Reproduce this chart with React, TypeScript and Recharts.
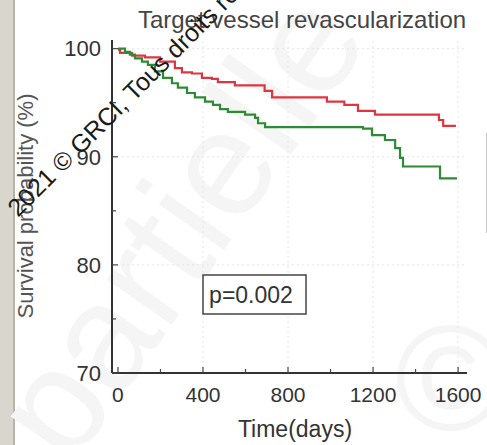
import React from 'react';
import { LineChart, Line, XAxis, YAxis, ReferenceLine } from 'recharts';

// Kaplan-Meier steps
const redTimes = [0, 10, 66, 127, 198, 268, 301, 348, 395, 442, 470, 550, 690, 725, 983, 1065, 1129, 1209, 1510, 1530, 1590];
const redSurvival = [99.9, 99.6, 99.35, 99.2, 98.8, 98.2, 97.8, 97.7, 97.3, 97.2, 96.9, 96.6, 96.1, 95.5, 95.1, 94.8, 94.25, 93.9, 93.4, 92.85, 92.85];

const greenTimes = [0, 33, 56, 80, 113, 141, 174, 212, 254, 282, 325, 362, 410, 447, 480, 517, 598, 645, 659, 692, 1153, 1195, 1256, 1304, 1327, 1341, 1515, 1595];
const greenSurvival = [100, 99.7, 99.45, 99.1, 98.8, 98.5, 97.9, 97.3, 96.8, 96.4, 95.9, 95.5, 95.1, 94.8, 94.4, 94.15, 93.9, 93.6, 93.1, 92.75, 92.6, 92.0, 91.55, 90.8, 89.9, 89.1, 88.0, 88.0];

const xTicks = [0, 200, 400, 600, 800, 1000, 1200, 1400, 1600];
const xMajor = [400, 800, 1200, 1600];
const yTicks = [70, 75, 80, 85, 90, 95, 100];
const yMajor = [80, 90, 100];

const redData = redTimes.map((t, i) => ({ t, v: redSurvival[i] }));
const greenData = greenTimes.map((t, i) => ({ t, v: greenSurvival[i] }));

const FONT = 'Liberation Sans, Arial, sans-serif';
const X_MARGIN = 14;
const Y_MARGIN = 11;

const XTick = (props: any) => {
  const { x, y, payload } = props;
  const v = payload.value;
  const major = v % 400 === 0;
  const axisY = y - X_MARGIN;
  return (
    <g>
      <line x1={x} x2={x} y1={axisY} y2={axisY - (major ? 6 : 4)} stroke="#444" strokeWidth={1.2} />
      {major && (
        <text x={x} y={y} dy="0.71em" textAnchor="middle" fontSize={21} fontFamily={FONT} fill="#333">
          {v}
        </text>
      )}
    </g>
  );
};

const YTick = (props: any) => {
  const { x, y, payload } = props;
  const v = payload.value;
  const major = v % 10 === 0;
  const axisX = x + Y_MARGIN;
  return (
    <g>
      <line x1={axisX} x2={axisX + (major ? 6 : 4)} y1={y} y2={y} stroke="#444" strokeWidth={1.2} />
      {major && (
        <text x={x} y={y} dy="0.355em" textAnchor="end" fontSize={22} fontFamily={FONT} fill="#333">
          {v}
        </text>
      )}
    </g>
  );
};

export default function App() {
  return (
    <div style={{ position: 'absolute', left: 0, top: 0, width: 487, height: 445, background: '#fff', overflow: 'hidden' }}>
      <div style={{ position: 'absolute', left: 0, top: 0, width: 13, height: 445, background: '#d9d6ce' }} />
      <div style={{ position: 'absolute', left: 13, top: 0, width: 2, height: 445, background: '#b5b3ad' }} />
      <div style={{ position: 'absolute', left: 486, top: 133, width: 1, height: 100, background: '#c8c8c8' }} />

      <svg width={487} height={445} style={{ position: 'absolute', left: 0, top: 0 }}>
        <text
          x={70}
          y={470}
          fontSize={150}
          fontFamily={FONT}
          fill="#f5f5f5"
          transform="rotate(-55 70 470)"
        >
          partielle
        </text>
        <text x={395} y={430} fontSize={150} fontFamily={FONT} fill="#f5f5f5">
          ©
        </text>
      </svg>

      <div style={{ position: 'absolute', left: 0, top: 0 }}>
        <LineChart width={487} height={445} margin={{ top: 40, right: 20, bottom: 32, left: 52 }}>
          <XAxis
            dataKey="t"
            type="number"
            domain={[-28, 1642]}
            allowDataOverflow
            ticks={xTicks}
            interval={0}
            tickSize={0}
            tickMargin={X_MARGIN}
            tick={<XTick />}
            height={40}
            axisLine={{ stroke: '#333', strokeWidth: 2 }}
          />
          <YAxis
            type="number"
            domain={[70, 100.8]}
            allowDataOverflow
            ticks={yTicks}
            interval={0}
            tickSize={0}
            tickMargin={Y_MARGIN}
            tick={<YTick />}
            width={60}
            axisLine={{ stroke: '#333', strokeWidth: 2 }}
          />
          {xMajor.map((v) => (
            <ReferenceLine key={`gx${v}`} x={v} stroke="#e6e6e6" strokeDasharray="2 3" />
          ))}
          {yMajor.map((v) => (
            <ReferenceLine key={`gy${v}`} y={v} stroke="#e6e6e6" strokeDasharray="2 3" />
          ))}
          <Line data={redData} dataKey="v" type="stepAfter" stroke="#de3640" strokeWidth={2.2} dot={false} isAnimationActive={false} />
          <Line data={greenData} dataKey="v" type="stepAfter" stroke="#2d8a35" strokeWidth={2.2} dot={false} isAnimationActive={false} />
        </LineChart>
      </div>

      <svg width={487} height={445} style={{ position: 'absolute', left: 0, top: 0, pointerEvents: 'none' }}>
        <text x={302} y={28} textAnchor="middle" fontSize={24} fontFamily={FONT} fill="#444">
          Target vessel revascularization
        </text>
        <text
          x={25}
          y={206}
          textAnchor="middle"
          fontSize={22}
          fontFamily={FONT}
          fill="#555"
          transform="rotate(-90 25 206)"
          dy="0.35em"
        >
          Survival probability (%)
        </text>
        <text x={295} y={437} textAnchor="middle" fontSize={23} fontFamily={FONT} fill="#333">
          Time(days)
        </text>
        <rect x={203} y={275} width={103} height={39} fill="#fff" stroke="#444" strokeWidth={1.5} />
        <text x={251} y={303} textAnchor="middle" fontSize={23} fontFamily={FONT} fill="#333">
          p=0.002
        </text>
        <text
          x={18}
          y={218}
          fontSize={25}
          fontFamily={FONT}
          fill="#1a1a1a"
          transform="rotate(-45 18 218)"
        >
          2021 © GRCI, Tous droits réservés
        </text>
      </svg>
    </div>
  );
}
